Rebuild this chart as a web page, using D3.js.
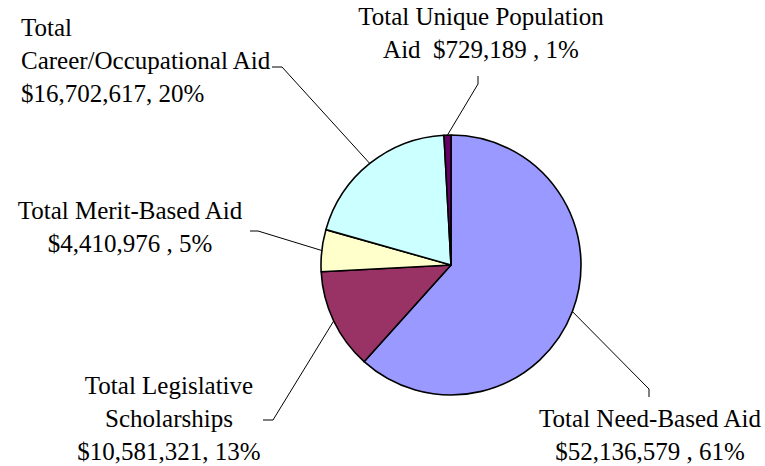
<!DOCTYPE html>
<html>
<head>
<meta charset="utf-8">
<script src="https://cdn.jsdelivr.net/npm/d3@7"></script>
<style>
  body { margin: 0; background: #fff; }
</style>
</head>
<body>
<div id="chart"></div>
<script>
// slices, in drawing order (clockwise from 12 o'clock)
const categories = ["Need-Based", "Legislative", "Merit-Based", "Career/Occupational", "Unique Population"];
const values = [52136579, 10581321, 4410976, 16702617, 729189];
const colors = ["#9999FF", "#993366", "#FFFFCC", "#CCFFFF", "#660066"];

// label text lines
const labelLines = [
  ["Total Need-Based Aid", "$52,136,579 , 61%"],
  ["Total Legislative", "Scholarships", "$10,581,321, 13%"],
  ["Total Merit-Based Aid", "$4,410,976 , 5%"],
  ["Total", "Career/Occupational Aid", "$16,702,617, 20%"],
  ["Total Unique Population", "Aid \u00a0$729,189 , 1%"]
];

// label layout: anchor x, first baseline y, text-anchor, knee + end of leader
const labelLayout = [
  { x: 650, y: 427, anchor: "middle", knee: [649, 389], end: [649, 397] },
  { x: 169, y: 394, anchor: "middle", knee: [273, 420], end: [263, 420] },
  { x: 130, y: 219, anchor: "middle", knee: [258, 231], end: [250, 231] },
  { x: 21,  y: 36,  anchor: "start",  knee: [282, 67],  end: [272, 67] },
  { x: 481, y: 25,  anchor: "middle", knee: [478, 84],  end: [478, 76] }
];

const width = 765, height = 466;
const cx = 451, cy = 265, radius = 130;
const lineHeight = 33;

const svg = d3.select("#chart").append("svg")
  .attr("width", width)
  .attr("height", height);

const pie = d3.pie().sort(null).value(d => d);
const arcs = pie(values);

const arc = d3.arc().innerRadius(0).outerRadius(radius);
const edge = d3.arc().innerRadius(radius).outerRadius(radius);

const g = svg.append("g")
  .attr("transform", "translate(" + cx + "," + cy + ")");

g.selectAll("path")
  .data(arcs)
  .enter().append("path")
  .attr("d", arc)
  .style("fill", (d, i) => colors[i])
  .style("stroke", "#000")
  .style("stroke-width", "1.6px")
  .style("stroke-linejoin", "round");

// leader lines
svg.selectAll("polyline")
  .data(arcs)
  .enter().append("polyline")
  .attr("points", function(d, i) {
    const c = edge.centroid(d);
    const L = labelLayout[i];
    return [[cx + c[0], cy + c[1]], L.knee, L.end].map(p => p.join(",")).join(" ");
  })
  .style("fill", "none")
  .style("stroke", "#000")
  .style("stroke-width", "1px");

// labels, one text per line
labelLines.forEach(function(lines, i) {
  const L = labelLayout[i];
  svg.selectAll(null)
    .data(lines)
    .enter().append("text")
    .attr("x", L.x)
    .attr("y", (s, j) => L.y + j * lineHeight)
    .attr("font-family", "Liberation Serif")
    .attr("font-size", 25)
    .attr("fill", "#000")
    .attr("text-anchor", L.anchor)
    .text(s => s);
});
</script>
</body>
</html>
